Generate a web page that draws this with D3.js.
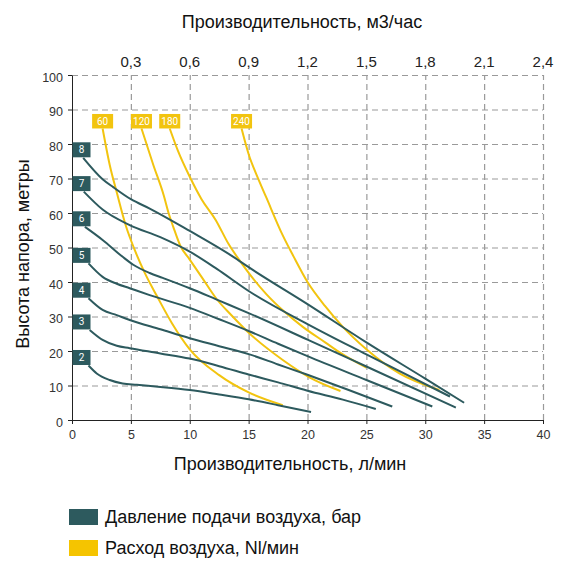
<!DOCTYPE html>
<html>
<head>
<meta charset="utf-8">
<script src="https://cdn.jsdelivr.net/npm/d3@7"></script>
<style>
  body { margin: 0; background: #fff; }
  text { font-family: "Liberation Sans", Arial, sans-serif; }
  .grid line { stroke: #9a9a9a; stroke-dasharray: 6,4; stroke-width: 1.2; }
  .grid path { display: none; }
  .axis path, .axis line { stroke: #222; }
  .axis text { fill: #333; font-size: 12.5px; }
  .pline { fill: none; stroke: #2d5a5e; stroke-width: 2; }
  .aline { fill: none; stroke: #f2c40f; stroke-width: 2; }
</style>
</head>
<body>
<script>
// Давление подачи воздуха (бар): [л/мин, метры]
var p2 = [[1.4,15.8],[2.1,13.5],[3.2,11.6],[4.3,10.6],[5.5,10.2],[7.5,9.6],[10,8.7],[12.5,7.4],[15,6],[17.5,4.3],[20.3,2.3]];
var p3 = [[1.5,26.1],[2.6,23.2],[3.8,21.5],[4.9,20.8],[7.5,19.3],[10,17.8],[12.5,15.6],[15,13.2],[17.5,10.9],[20,8.5],[23,5.9],[25.8,3.2]];
var p4 = [[1.4,35.3],[2.6,31.9],[3.8,30.4],[4.9,29],[7.5,26.3],[10,23.7],[12.5,21.4],[15,19.1],[17.5,16.1],[20,13.1],[23.5,8.7],[27.2,3.9]];
var p5 = [[1.4,45.4],[2.6,41.5],[3.8,39.5],[4.9,38.2],[6.6,36.2],[10,32.5],[12.5,29.2],[15,25.8],[17.5,22.1],[20,18.5],[25,11.6],[30.6,3.9]];
var p6 = [[1.1,56],[2.6,52.2],[4.3,47.3],[5.2,45],[6.6,42.6],[7.7,41.2],[10,38.2],[12.5,34.6],[15,31],[20,23.3],[25,15.5],[32.6,3.6]];
var p7 = [[1,66.2],[2.6,61],[4.9,56.5],[7.5,53],[10,48.8],[12.3,43.8],[15,37.4],[20,27.8],[25,19],[32.1,6.8]];
var p8 = [[0.95,76],[2.6,69.8],[3.5,67.5],[5,64],[6.6,61.3],[10,54.8],[13.7,47.3],[15,44.3],[20,33.6],[25,22.5],[30,12],[33.3,5]];
var pressureNames = ["2","3","4","5","6","7","8"];

// Расход воздуха (Nl/мин)
var a60 = [[2.6,84.5],[3.2,74],[3.8,66],[4.6,56],[5.3,49.5],[6.2,42.5],[7.2,36],[8.5,28],[10,20.5],[12.5,13],[15,8],[17.9,4.3]];
var a120 = [[5.9,84.5],[6.9,74],[7.8,65],[8.2,60],[8.6,56],[9.2,50.5],[10,46.5],[11,41.5],[12.3,35],[13.5,30.5],[15.1,25],[17.9,17.4],[20.2,12.3],[22.8,8.4]];
var a180 = [[8.3,84.5],[9,78],[10,70.5],[11,64],[12.2,58],[13.3,51],[14.2,46.4],[15.1,42.2],[16.5,36.5],[18,31.5],[19.6,27],[21.5,22.5],[23,19],[25,15.2]];
var a240 = [[14.4,84.5],[15.1,76],[15.5,72.5],[16.5,64.5],[17.9,53.5],[18.8,47.5],[20,40],[21.5,33],[23,27],[25,20.5],[27.8,13.5],[31.2,8.7]];
var airNames = ["60","120","180","240"];

var xTicks = [0,5,10,15,20,25,30,35,40];
var yTicks = [0,10,20,30,40,50,60,70,80,90,100];
var topTicks = [5,10,15,20,25,30,35,40];
var topTickLabels = ["0,3","0,6","0,9","1,2","1,5","1,8","2,1","2,4"];

var pressureSeries = [p2,p3,p4,p5,p6,p7,p8].map(function(d, i) { return {name: pressureNames[i], pts: d}; });
var airSeries = [a60,a120,a180,a240].map(function(d, i) { return {name: airNames[i], pts: d}; });

var margin = {top: 75, right: 41, bottom: 152, left: 72},
    width = 584 - margin.left - margin.right,
    height = 572 - margin.top - margin.bottom;

var x = d3.scaleLinear().domain([0, 40]).range([0, width]);
var y = d3.scaleLinear().domain([0, 100]).range([height, 0]);

var line = d3.line()
  .x(function(d) { return x(d[0]); })
  .y(function(d) { return y(d[1]); })
  .curve(d3.curveMonotoneX);

var svg = d3.select("body").append("svg")
  .attr("width", 584)
  .attr("height", 572);

svg.append("rect").attr("width", 584).attr("height", 572).attr("fill", "#fff");

var g = svg.append("g")
  .attr("transform", "translate(" + margin.left + "," + margin.top + ")");

// grid
g.append("g")
  .attr("class", "grid")
  .call(d3.axisLeft(y).tickValues(yTicks.slice(1)).tickSize(-width).tickFormat(""));
g.append("g")
  .attr("class", "grid")
  .attr("transform", "translate(0," + height + ")")
  .call(d3.axisBottom(x).tickValues(xTicks.slice(1)).tickSize(height).tickFormat(""))
  .selectAll("line").attr("y2", -height);

// air flow curves
g.selectAll(".aline")
  .data(airSeries)
  .enter().append("path")
  .attr("class", "aline")
  .attr("d", function(d) { return line(d.pts); });

// pressure curves
g.selectAll(".pline")
  .data(pressureSeries)
  .enter().append("path")
  .attr("class", "pline")
  .attr("d", function(d) { return line(d.pts); });

// axes
g.append("g")
  .attr("class", "axis")
  .call(d3.axisLeft(y).tickValues(yTicks).tickSize(4).tickSizeOuter(0))
  .selectAll("text").attr("dy", "0.5em").attr("x", -9);

g.append("g")
  .attr("class", "axis")
  .attr("transform", "translate(0," + height + ")")
  .call(d3.axisBottom(x).tickValues(xTicks).tickSize(4).tickSizeOuter(0))
  .selectAll("text").attr("y", 10);

// top axis labels (м3/час)
g.append("g")
  .selectAll("text")
  .data(topTicks)
  .enter().append("text")
  .attr("x", function(d) { return x(d); })
  .attr("y", -8)
  .attr("text-anchor", "middle")
  .style("font-size", "15px")
  .style("fill", "#222")
  .text(function(d, i) { return topTickLabels[i]; });

// pressure labels
var plab = g.selectAll(".plab")
  .data(pressureSeries)
  .enter().append("g")
  .attr("transform", function(d) { return "translate(" + x(0) + "," + (y(d.pts[0][1]) - 8) + ")"; });
plab.append("rect")
  .attr("x", 0.5).attr("y", -7.5).attr("width", 18).attr("height", 15)
  .attr("fill", "#2d5a5e");
plab.append("text")
  .attr("x", 9.5).attr("y", 0).attr("dy", "0.35em")
  .attr("text-anchor", "middle")
  .style("font-family", "Roboto, sans-serif")
  .style("font-size", "10px")
  .style("fill", "#fff")
  .text(function(d) { return d.name; });

// air labels
var alab = g.selectAll(".alab")
  .data(airSeries)
  .enter().append("g")
  .attr("transform", function(d) { return "translate(" + x(d.pts[0][0]) + "," + y(d.pts[0][1]) + ")"; });
alab.append("rect")
  .attr("x", -10.5).attr("y", -14.5).attr("width", 21).attr("height", 14.5)
  .attr("fill", "#f2c40f");
alab.append("text")
  .attr("x", 0).attr("y", -7).attr("dy", "0.35em")
  .attr("text-anchor", "middle")
  .style("font-family", "Roboto, sans-serif")
  .style("font-size", "10px")
  .style("fill", "#fff")
  .text(function(d) { return d.name; });

// titles
svg.append("text")
  .attr("x", 302).attr("y", 28)
  .attr("text-anchor", "middle")
  .style("font-size", "18px").style("fill", "#111")
  .text("Производительность, м3/час");

svg.append("text")
  .attr("x", 290).attr("y", 470)
  .attr("text-anchor", "middle")
  .style("font-size", "18px").style("fill", "#111")
  .text("Производительность, л/мин");

svg.append("text")
  .attr("transform", "translate(29,254) rotate(-90)")
  .attr("text-anchor", "middle")
  .style("font-size", "18px").style("fill", "#111")
  .text("Высота напора, метры");

// legend
var legend = [
  {label: "Давление подачи воздуха, бар", color: "#2d5a5e"},
  {label: "Расход воздуха, Nl/мин", color: "#f5c400"}
];
var lg = svg.selectAll(".leg")
  .data(legend)
  .enter().append("g")
  .attr("transform", function(d, i) { return "translate(69," + (509 + i * 31) + ")"; });
lg.append("rect").attr("width", 29).attr("height", 16).attr("fill", function(d) { return d.color; });
lg.append("text")
  .attr("x", 36).attr("y", 8).attr("dy", "0.35em")
  .style("font-size", "18px").style("fill", "#111")
  .text(function(d) { return d.label; });
</script>
</body>
</html>
